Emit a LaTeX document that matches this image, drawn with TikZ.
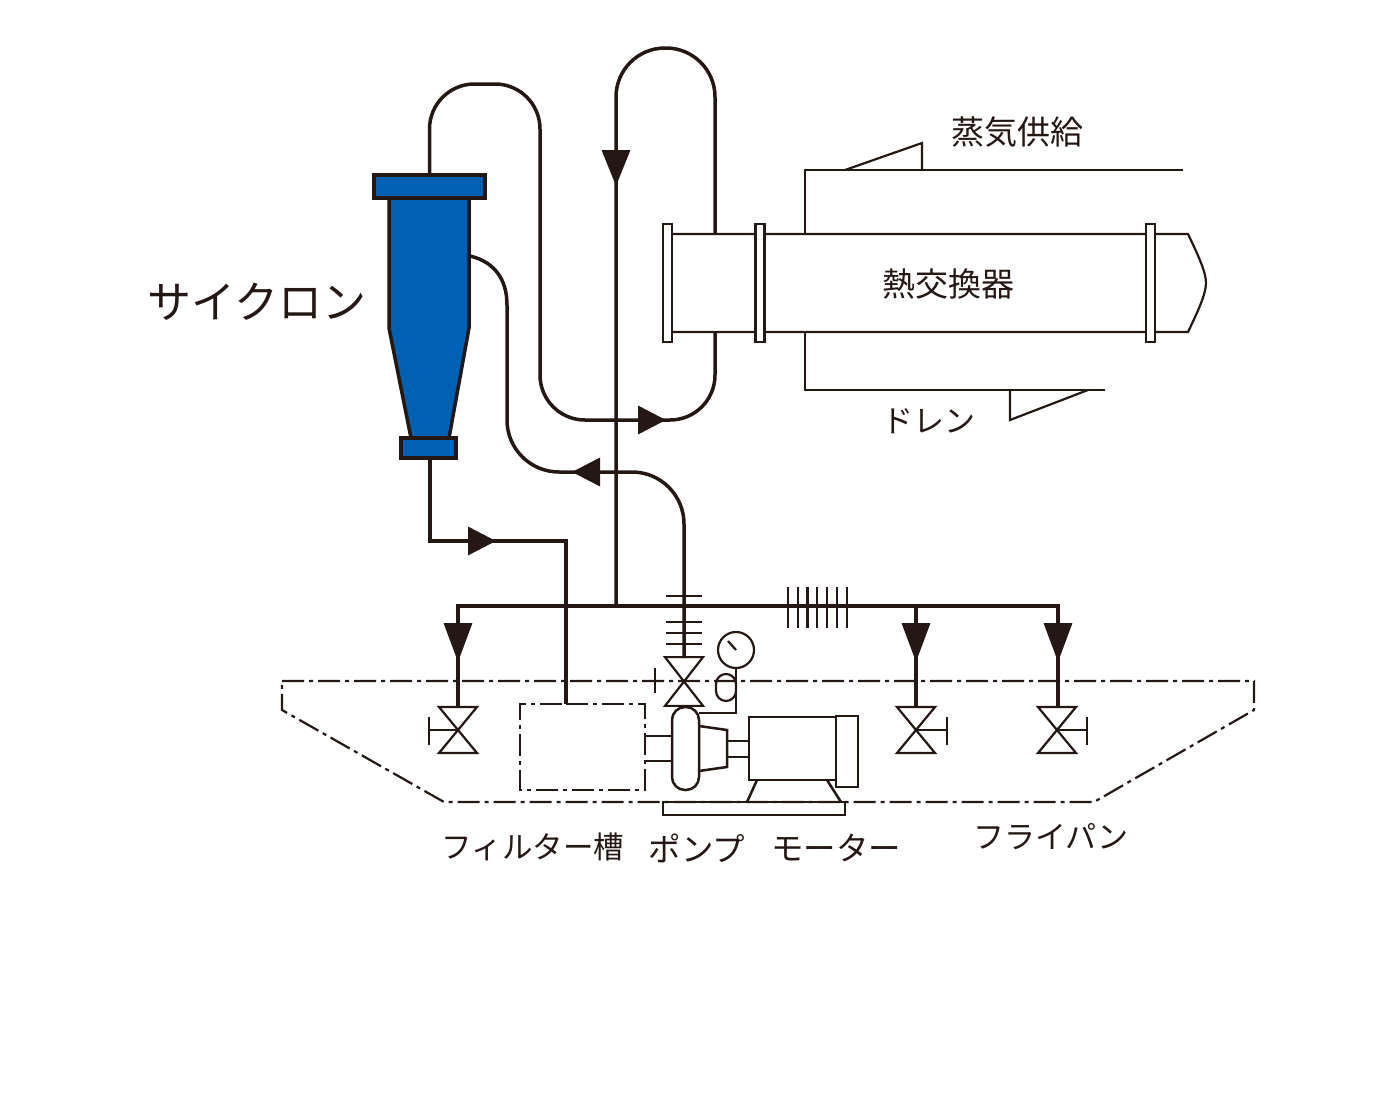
\documentclass[tikz,border=0pt]{standalone}
\usepackage{xcolor}
\usepackage{fontspec}
\usepackage{tikz}
\usetikzlibrary{arrows.meta}
\newfontfamily\jpfont{Noto Sans CJK JP}
\definecolor{c_ink}{rgb}{0.14, 0.09, 0.08}
\definecolor{c_blue}{rgb}{0.0, 0.38, 0.70}
\tikzset{thinpart/.style={draw=c_ink, line width=2.2pt},
pipe/.style={draw=c_ink, line width=3.5pt},
header/.style={draw=c_ink, line width=4.5pt},
dashdot/.style={draw=c_ink, line width=2.2pt, dash pattern=on 22pt off 5pt on 4pt off 5pt},
flowtip/.style={draw=c_ink, line width=3.5pt, -{Triangle[length=#1,width=28pt,fill=c_ink]}},
flange/.style={rectangle, draw=c_ink, line width=2.2pt, fill=white, minimum width=9pt, minimum height=118pt, inner sep=0pt, outer sep=0pt},
cyc-flange/.style={rectangle, draw=c_ink, line width=3.5pt, fill=c_blue, inner sep=0pt, outer sep=0pt},
machine/.style={rectangle, draw=c_ink, line width=2.5pt, fill=white, inner sep=0pt, outer sep=0pt},
jlabel/.style={font=\jpfont\fontsize{33}{36}\selectfont, text=c_ink, inner sep=0pt},
valve/.pic={\draw[thinpart, line join=miter] (-19,-23) -- (19,-23) -- (-19,23) -- (19,23) -- cycle;}}

\begin{document}
\begin{tikzpicture}[x=1pt, y=-1pt]
\useasboundingbox (0,0) rectangle (1400,1100);

\draw [dashdot] (282,681) -- (1254,681) -- (1254,710) -- (1094,802) -- (444,802) -- (282,710) -- cycle;

\node (steam) [jlabel] at (1017,132) {蒸気供給};
\node (drain) [jlabel, font=\jpfont\fontsize{31}{34}\selectfont] at (929,421) {ドレン};
\node (hxlabel) [jlabel] at (948,284) {熱交換器};
\node (cyclabel) [jlabel, font=\jpfont\fontsize{44}{48}\selectfont] at (257,302) {サイクロン};
\node (filterlabel) [jlabel, font=\jpfont\fontsize{30.5}{34}\selectfont] at (533,847) {フィルター槽};
\node (pumplabel) [jlabel, font=\jpfont\fontsize{32.5}{36}\selectfont] at (697,848) {ポンプ};
\node (motorlabel) [jlabel, font=\jpfont\fontsize{32.5}{36}\selectfont] at (836,848) {モーター};
\node (panlabel) [jlabel, font=\jpfont\fontsize{31}{34}\selectfont] at (1051,837) {フライパン};

% heat exchanger
\draw [thinpart] (672,234) -- (1188,234) .. controls (1198,255) and (1206,272) .. (1206,283) .. controls (1206,294) and (1198,311) .. (1188,332) -- (672,332);
\node (fl1) [flange] at (667.5,283) {};
\node (fl2) [flange] at (760,283) {};
\node (fl3) [flange] at (1150.5,283) {};
\draw [thinpart] (805,234) -- (805,170) -- (1183,170);
\draw [thinpart] (845,170) -- (922,143) -- (922,170);
\draw [thinpart] (805,332) -- (805,390) -- (1105,390);
\draw [thinpart] (1010,390) -- (1010,420) -- (1088,390);

% cyclone
\draw [pipe, fill=c_blue] (389,198) -- (469,198) -- (469,328) -- (449,438) -- (411,438) -- (389,328) -- cycle;
\node (cyctop) [cyc-flange, minimum width=111pt, minimum height=23pt] at (429.5,186.5) {};
\node (cycbot) [cyc-flange, minimum width=55pt, minimum height=20pt] at (428.5,448) {};

% piping
\coordinate (hxin) at (715,332);
\coordinate (hxout) at (715,234);
\coordinate (junction) at (616,606);
\coordinate (pumpvalve) at (684,658);
\coordinate (tankin) at (566,704);
\coordinate (cycout) at (470,256);
\coordinate (bend) at (507,305);
\draw [pipe, rounded corners=45pt] (cyctop.north) -- (429.5,84) -- (540,84) -- (540,420) -- (715,420) -- (hxin);
\draw [pipe, rounded corners=49pt] (hxout) -- (715,48) -- (616,48) -- (junction);
\draw [pipe] (cycout) .. controls (495,262) and (507,280) .. (bend);
\draw [pipe, rounded corners=52pt] (bend) -- (507,472) -- (684,472) -- (pumpvalve);
\draw [pipe] ([xshift=1.5pt]cycbot.south) -- (430,541) -- (566,541) -- (tankin);
\draw [header] (458,706) -- (458,606) -- (1058,606) -- (1058,706);
\draw [header] (916,606) -- (916,706);

\draw [flowtip=36pt] (616,150) -- (616,186);
\draw [flowtip=28pt] (638,420) -- (666,420);
\draw [flowtip=28pt] (600,472) -- (572,472);
\draw [flowtip=28pt] (468,541) -- (496,541);
\foreach \px in {458,916,1058} {
\draw [flowtip=39pt] (\px,623) -- (\px,662);
}

\foreach \ty in {596,622,633,644} {
\draw [thinpart] (666,\ty) -- (702,\ty);
}
\foreach \cx in {788,798,807.5,817,827,837,847} {
\draw [thinpart] (\cx,587) -- (\cx,628);
}

% valves
\pic at (458,730) {valve};
\pic at (916,730) {valve};
\pic at (1057,730) {valve};
\pic [yscale=1.06] at (684,681.5) {valve};
\draw [thinpart] (458,730) -- (429,730) (429,717) -- (429,745);
\draw [thinpart] (916,730) -- (947,730) (947,717) -- (947,745);
\draw [thinpart] (1057,730) -- (1087,730) (1087,717) -- (1087,745);
\draw [thinpart] (655,668) -- (655,693);

% tank and pump
\draw [dashdot] (566,704) -- (645,704) -- (645,790) -- (520,790) -- (520,704) -- cycle;
\draw [thinpart, line width=2.5pt] (645,736) -- (672,736) (645,761) -- (672,761);
\node (volute) [machine, rounded corners=13pt, minimum width=27pt, minimum height=83pt] at (685.5,748.5) {};
\draw [thinpart, line width=2.5pt] (699,726) -- (727,730) -- (727,767) -- (699,771);
\draw [thinpart, line width=2.5pt] (727,741) -- (749,741) (727,757) -- (749,757);
\node (motor) [machine, minimum width=87pt, minimum height=63pt] at (792.5,748.5) {};
\node (motorcap) [machine, minimum width=22pt, minimum height=71pt] at (847,751.5) {};
\draw [thinpart, line width=2.5pt] (757,780) -- (747,802) (827,780) -- (841,802);
\node (motorbase) [machine, minimum width=182pt, minimum height=13pt, fill=none] at (754,808.5) {};

% gauge
\node (gauge) [circle, draw=c_ink, line width=2.2pt, minimum size=36pt, inner sep=0pt, outer sep=0pt] at (736,650) {};
\draw [thinpart] (728,641) -- (736,650);
\draw [thinpart] (gauge.south) -- (736,713) -- (699,713);
\draw [thinpart, rounded corners=10pt] (736,674) -- (716,674) -- (716,701) -- (736,701) -- cycle;
\end{tikzpicture}
\end{document}
